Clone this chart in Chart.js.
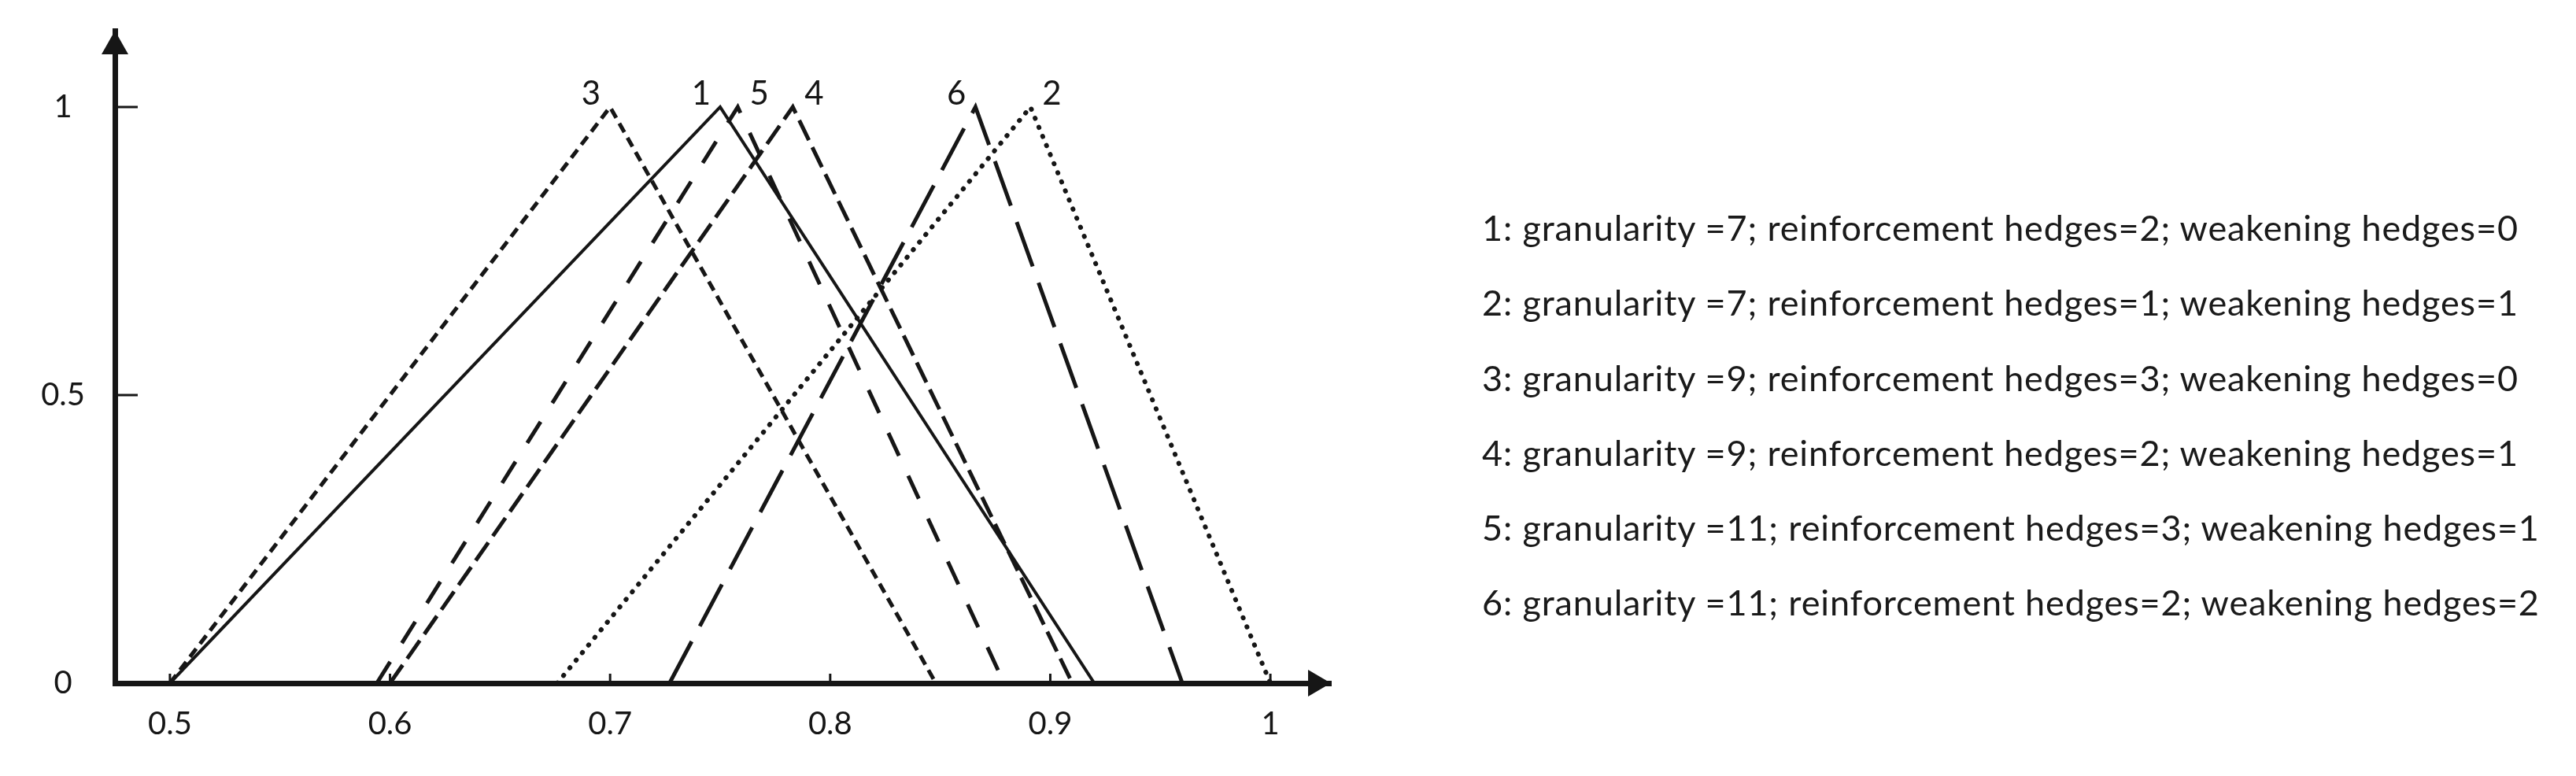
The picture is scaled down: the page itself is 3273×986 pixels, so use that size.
<!DOCTYPE html>
<html>
<head>
<meta charset="utf-8">
<script src="https://cdn.jsdelivr.net/npm/chart.js@4.4.1/dist/chart.umd.min.js"></script>
<style>
  html, body { margin: 0; padding: 0; background: #fff; }
  #wrap { position: relative; width: 3273px; height: 986px; }
  #fuzzyChart { position: absolute; left: 0; top: 0; }
  #legend { position: absolute; left: 1883px; top: 242px; font-family: Lato, sans-serif; font-size: 45px; letter-spacing: 0.85px; color: #1a1a1a; }
  #legend div { height: 95.3px; line-height: 95.3px; white-space: nowrap; }
</style>
</head>
<body>
<div id="wrap">
  <canvas id="fuzzyChart" width="3273" height="986"></canvas>
  <div id="legend"></div>
</div>
<script>
// triangular membership functions: left foot, peak, right foot
const names = ['1', '2', '3', '4', '5', '6'];
const starts = [0.5, 0.676, 0.5, 0.6, 0.594, 0.727];
const peaks = [0.75, 0.891, 0.7, 0.783, 0.758, 0.866];
const ends = [0.92, 1.0, 0.848, 0.91, 0.879, 0.96];

const granularity = [7, 7, 9, 9, 11, 11];
const reinforcement = [2, 1, 3, 2, 3, 2];
const weakening = [0, 1, 0, 1, 1, 2];

const xTicks = [0.5, 0.6, 0.7, 0.8, 0.9, 1];
const yTicks = [0, 0.5, 1];
const xMin = 0.475, xMax = 1.0275;
const yMin = 0, yMax = 1.1325;

// line looks
const dashes = [[], [0.5, 12], [13, 8], [28, 10], [32, 28], [60, 22]];
const widths = [4, 6, 5, 5, 5, 5];
const caps = ['butt', 'round', 'butt', 'butt', 'butt', 'butt'];
const labelSide = ['left', 'right', 'left', 'right', 'right', 'left'];

const INK = '#161616';
const FONT = 'Lato, sans-serif';

const legend = document.getElementById('legend');
names.forEach(function (n, i) {
  const d = document.createElement('div');
  d.textContent = n + ': granularity =' + granularity[i] + '; reinforcement hedges=' + reinforcement[i] + '; weakening hedges=' + weakening[i];
  legend.appendChild(d);
});

const datasets = names.map(function (n, i) {
  return {
    label: n,
    data: [{x: starts[i], y: 0}, {x: peaks[i], y: 1}, {x: ends[i], y: 0}],
    borderColor: INK,
    borderWidth: widths[i],
    borderDash: dashes[i],
    borderCapStyle: caps[i],
    borderJoinStyle: 'miter',
    pointRadius: 0,
    fill: false,
    tension: 0
  };
});

const axisDecor = {
  id: 'axisDecor',
  afterDatasetsDraw: function (chart) {
    const ctx = chart.ctx;
    const x = chart.scales.x, y = chart.scales.y;
    const a = chart.chartArea;
    ctx.save();
    ctx.strokeStyle = INK;
    ctx.fillStyle = INK;
    ctx.lineWidth = 3;
    // inner tick marks
    yTicks.forEach(function (v) {
      if (v === 0) return;
      const py = y.getPixelForValue(v);
      ctx.beginPath(); ctx.moveTo(a.left, py); ctx.lineTo(a.left + 29, py); ctx.stroke();
    });
    xTicks.forEach(function (v) {
      const px = x.getPixelForValue(v);
      ctx.beginPath(); ctx.moveTo(px, a.bottom); ctx.lineTo(px, a.bottom - 12); ctx.stroke();
    });
    // arrow heads
    ctx.beginPath();
    ctx.moveTo(a.left, a.top);
    ctx.lineTo(a.left - 17, a.top + 30);
    ctx.lineTo(a.left + 17, a.top + 30);
    ctx.closePath(); ctx.fill();
    ctx.beginPath();
    ctx.moveTo(a.right, a.bottom);
    ctx.lineTo(a.right - 29, a.bottom - 17);
    ctx.lineTo(a.right - 29, a.bottom + 17);
    ctx.closePath(); ctx.fill();
    // curve names at the peaks
    ctx.font = '42px ' + FONT;
    ctx.textBaseline = 'alphabetic';
    names.forEach(function (n, i) {
      const px = x.getPixelForValue(peaks[i]);
      const py = y.getPixelForValue(1) - 3;
      if (labelSide[i] === 'left') {
        ctx.textAlign = 'right';
        ctx.fillText(n, px - 12, py);
      } else {
        ctx.textAlign = 'left';
        ctx.fillText(n, px + 15, py);
      }
    });
    ctx.restore();
  }
};

new Chart(document.getElementById('fuzzyChart'), {
  type: 'line',
  data: { datasets: datasets },
  plugins: [axisDecor],
  options: {
    responsive: false,
    animation: false,
    devicePixelRatio: 1,
    layout: { padding: { left: 0, top: 39, right: 3273 - 1691, bottom: 0 } },
    plugins: { legend: { display: false }, tooltip: { enabled: false } },
    scales: {
      x: {
        type: 'linear',
        min: xMin,
        max: xMax,
        afterBuildTicks: function (s) { s.ticks = xTicks.map(function (v) { return {value: v}; }); },
        afterFit: function (s) { s.height = 118; s.paddingLeft = 0; s.paddingRight = 0; },
        grid: { display: false, drawTicks: false },
        border: { display: true, color: INK, width: 7 },
        ticks: { color: INK, padding: 28, maxRotation: 0, font: { family: FONT, size: 40 }, callback: function (v) { return String(v); } }
      },
      y: {
        type: 'linear',
        min: yMin,
        max: yMax,
        afterBuildTicks: function (s) { s.ticks = yTicks.map(function (v) { return {value: v}; }); },
        afterFit: function (s) { s.width = 146; s.paddingTop = 0; s.paddingBottom = 0; },
        grid: { display: false, drawTicks: false },
        border: { display: true, color: INK, width: 7 },
        ticks: { color: INK, padding: 38, crossAlign: 'center', font: { family: FONT, size: 40 }, callback: function (v) { return String(v); } }
      }
    }
  }
});
</script>
</body>
</html>
